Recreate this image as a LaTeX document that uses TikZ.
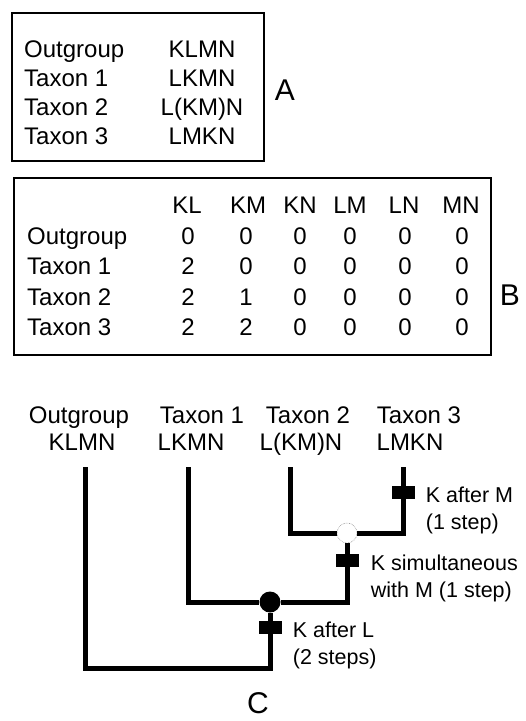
\documentclass[tikz,border=0pt]{standalone}
\usepackage{fontspec}
\setmainfont{Liberation Sans}
\usetikzlibrary{positioning}

\begin{document}
\begin{tikzpicture}[x=1pt,y=-1pt,
        txt/.style={font=\fontsize{24}{29}\selectfont, inner sep=0pt},
        note/.style={font=\fontsize{21.5}{26.5}\selectfont, inner sep=0pt, align=left, anchor=north west},
        panel/.style={font=\fontsize{30}{36}\selectfont, inner sep=0pt, anchor=base},
        frame/.style={line width=1.2pt},
        branch/.style={line width=5pt},
        tick/.style={fill=black, minimum width=23pt, minimum height=13pt, inner sep=0pt},
        fullnode/.style={circle, fill=black, minimum size=21pt, inner sep=0pt},
        opennode/.style={circle, draw=black!45, densely dotted, line width=0.6pt, fill=white, minimum size=20pt, inner sep=0pt}]
    \useasboundingbox (0,0) rectangle (526,721);

    % A: sequences
    \draw[frame] (12,13) rectangle (264,161);
    \foreach \name/\seq [count=\i] in {Outgroup/KLMN, Taxon 1/LKMN, Taxon 2/L(KM)N, Taxon 3/LMKN} {
        \node[txt, anchor=base west] (a\i) at (24, {57+29*(\i-1)}) {\name};
        \node[txt, anchor=base] (s\i) at (202, {57+29*(\i-1)}) {\seq};
    }
    \node[panel] (pA) at (285,100) {A};

    % B: pair matrix
    \draw[frame] (14,178) rectangle (491,355);
    \foreach \lab/\cx in {KL/187, KM/248, KN/300, LM/350, LN/404, MN/461} {
        \node[txt, anchor=base] (h\lab) at (\cx,213) {\lab};
    }
    \foreach \name/\va/\vb [count=\i] in {Outgroup/0/0, Taxon 1/2/0, Taxon 2/2/1, Taxon 3/2/2} {
        \node[txt, anchor=base west] (r\i) at (27, {244+30.5*(\i-1)}) {\name};
        \foreach \v/\cx [count=\j] in {\va/188, \vb/246, 0/300, 0/350, 0/405, 0/462} {
            \node[txt, anchor=base] (c\i\j) at (\cx, {244+30.5*(\i-1)}) {\v};
        }
    }
    \node[panel] (pB) at (510,305) {B};

    % C: tree
    \foreach \name/\seq/\cx/\sx [count=\i] in {Outgroup/KLMN/79/82, Taxon 1/LKMN/202/191, Taxon 2/L(KM)N/308/301, Taxon 3/LMKN/419/410} {
        \node[txt, anchor=base] (t\i) at (\cx,423) {\name};
        \node[txt, anchor=base] (q\i) at (\sx,450) {\seq};
    }
    \coordinate (tip1) at (85,467);
    \coordinate (tip2) at (188,467);
    \coordinate (tip3) at (290,467);
    \coordinate (tip4) at (403,467);
    \coordinate (root) at (270,668);
    \node[opennode] (n34) at (347,533) {};
    \node[fullnode] (n234) at (270,602) {};

    \draw[branch] (tip3) |- (n34);
    \draw[branch] (tip4) |- (n34);
    \draw[branch] (n34) |- (n234);
    \draw[branch] (tip2) |- (n234);
    \draw[branch] (n234) -- (root) -| (tip1);

    \node[tick] (k4) at (403,492) {};
    \node[tick] (k34) at (347,560) {};
    \node[tick] (k234) at (270,627) {};
    \node[note] (m4) at ([xshift=11pt, yshift=-1.5pt]k4.north east) {K after M\\(1 step)};
    \node[note] (m34) at ([xshift=12pt, yshift=-1.5pt]k34.north east) {K simultaneous\\with M (1 step)};
    \node[note] (m234) at ([xshift=11pt, yshift=-1.5pt]k234.north east) {K after L\\(2 steps)};
    \node[panel] (pC) at (258,713) {C};
\end{tikzpicture}
\end{document}
